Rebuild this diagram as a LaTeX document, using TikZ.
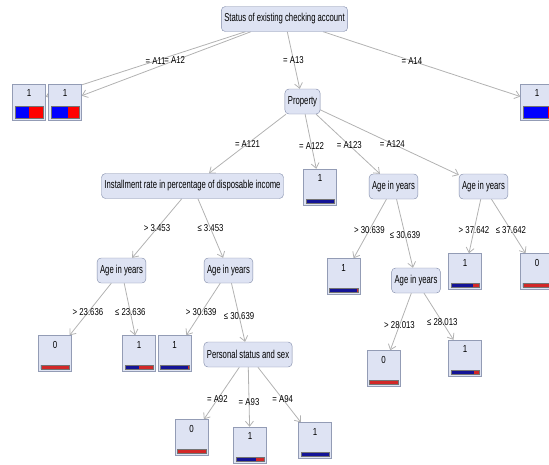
\documentclass[tikz,border=0pt]{standalone}
\usepackage{fontspec}
\setmainfont{Liberation Sans}[FakeStretch=0.67]
\newfontfamily\condfont{Liberation Sans}[FakeStretch=0.78]
\usetikzlibrary{arrows.meta,backgrounds}

\definecolor{nodefill}{RGB}{222,227,243}
\definecolor{nodeline}{RGB}{128,138,168}
\definecolor{linkgray}{RGB}{178,178,178}
\definecolor{fullblue}{RGB}{0,0,255}
\definecolor{fullred}{RGB}{255,0,0}
\definecolor{navybar}{RGB}{20,20,150}
\definecolor{redbar}{RGB}{210,40,40}

\tikzset{
  split/.style={draw=nodeline,fill=nodefill,rounded corners=4pt,inner xsep=3pt,inner ysep=0pt,minimum height=25pt,font=\fontsize{11.5}{13}\selectfont},
  leaf/.style={draw=nodeline!85,fill=nodefill,minimum width=33pt,inner xsep=0pt,inner ysep=0pt,text height=12.5pt,text depth=23.5pt,font=\condfont\fontsize{10.2}{12}\selectfont},
  link/.style={draw=linkgray,line width=0.8pt,-{Straight Barb[length=5pt,width=8pt]}},
  cond/.style={font=\condfont\fontsize{10}{12}\selectfont,inner sep=1pt}
}

% node, blue share, bar height, blue colour, red colour
\newcommand{\leafbar}[5]{%
  \fill[#4] ([xshift=2.5pt,yshift=2.5pt]#1.south west) rectangle ++({#2*28pt},#3);
  \fill[#5] ([xshift={2.5pt+#2*28pt},yshift=2.5pt]#1.south west) rectangle ([xshift=-2.5pt,yshift={2.5pt+#3}]#1.south east);
  \draw[black!55,line width=0.3pt] ([xshift=2.5pt,yshift=2.5pt]#1.south west) rectangle ([xshift=-2.5pt,yshift={2.5pt+#3}]#1.south east);
}

\begin{document}
\begin{tikzpicture}[x=1pt,y=-1pt]
\useasboundingbox (0,0) rectangle (549,464);

\node[split] (root) at (284.5,19) {Status of existing checking account};
\node[leaf] (a11) at (29,102) {1};
\node[leaf] (a12) at (65,102) {1};
\node[leaf] (a14) at (537,102) {1};
\node[split] (prop) at (302.5,101.5) {Property};

\node[split] (rate) at (192.5,186) {Installment rate in percentage of disposable income};
\node[leaf] (a122) at (320,187) {1};
\node[split] (age1) at (393.5,186.5) {Age in years};
\node[split] (age2) at (483.5,186.5) {Age in years};

\node[split] (age3) at (121.5,270.5) {Age in years};
\node[split] (age4) at (228.5,270.5) {Age in years};
\node[leaf] (n1) at (55,353.5) {0};
\node[leaf] (n2) at (139,353.5) {1};
\node[leaf] (n3) at (174.5,353.5) {1};
\node[split] (sex) at (248,354.5) {Personal status and sex};
\node[leaf] (n4) at (191.5,437.5) {0};
\node[leaf] (n5) at (250,445) {1};
\node[leaf] (n6) at (315,440.5) {1};

\node[leaf] (n7) at (343.5,276.5) {1};
\node[split] (age5) at (416,280.5) {Age in years};
\node[leaf] (n8) at (383.5,368.5) {0};
\node[leaf] (n9) at (465,358) {1};
\node[leaf] (n10) at (465,271.5) {1};
\node[leaf] (n11) at (537,271.5) {0};

\leafbar{a11}{0.5}{12pt}{fullblue}{fullred}
\leafbar{a12}{0.6}{12pt}{fullblue}{fullred}
\leafbar{a14}{0.9}{12pt}{fullblue}{fullred}
\leafbar{a122}{1}{4pt}{navybar}{redbar}
\leafbar{n1}{0}{4pt}{navybar}{redbar}
\leafbar{n2}{0.5}{4pt}{navybar}{redbar}
\leafbar{n3}{1}{4pt}{navybar}{redbar}
\leafbar{n4}{0}{4pt}{navybar}{redbar}
\leafbar{n5}{0.72}{4pt}{navybar}{redbar}
\leafbar{n6}{1}{4pt}{navybar}{redbar}
\leafbar{n7}{1}{4pt}{navybar}{redbar}
\leafbar{n8}{0}{4pt}{navybar}{redbar}
\leafbar{n9}{0.84}{4pt}{navybar}{redbar}
\leafbar{n10}{0.8}{4pt}{navybar}{redbar}
\leafbar{n11}{0}{4pt}{navybar}{redbar}

\begin{scope}[on background layer]
  \draw[link] (root) -- node[cond,pos=0.45] {= A11} (a11);
  \draw[link] (root) -- node[cond,pos=0.45] {= A12} (a12);
  \draw[link] (root) -- node[cond,pos=0.5] {= A13} (prop);
  \draw[link] (root) -- node[cond,pos=0.45] {= A14} (a14);

  \draw[link] (prop) -- node[cond,pos=0.5] {= A121} (rate);
  \draw[link] (prop) -- node[cond,pos=0.58] {= A122} (a122);
  \draw[link] (prop) -- node[cond,pos=0.52] {= A123} (age1);
  \draw[link] (prop) -- node[cond,pos=0.52] {= A124} (age2);

  \draw[link] (rate) -- node[cond,pos=0.5] {> 3.453} (age3);
  \draw[link] (rate) -- node[cond,pos=0.5] {≤ 3.453} (age4);
  \draw[link] (age3) -- node[cond,pos=0.56] {> 23.636} (n1);
  \draw[link] (age3) -- node[cond,pos=0.56] {≤ 23.636} (n2);
  \draw[link] (age4) -- node[cond,pos=0.56] {> 30.639} (n3);
  \draw[link] (age4) -- node[cond,pos=0.56] {≤ 30.639} (sex);
  \draw[link] (sex) -- node[cond,pos=0.62] {= A92} (n4);
  \draw[link] (sex) -- node[cond,pos=0.58] {= A93} (n5);
  \draw[link] (sex) -- node[cond,pos=0.58] {= A94} (n6);

  \draw[link] (age1) -- node[cond,pos=0.52] {> 30.639} (n7);
  \draw[link] (age1) -- node[cond,pos=0.52] {≤ 30.639} (age5);
  \draw[link] (age5) -- node[cond,pos=0.56] {> 28.013} (n8);
  \draw[link] (age5) -- node[cond,pos=0.62] {≤ 28.013} (n9);
  \draw[link] (age2) -- node[cond,pos=0.57] {> 37.642} (n10);
  \draw[link] (age2) -- node[cond,pos=0.57] {≤ 37.642} (n11);
\end{scope}
\end{tikzpicture}
\end{document}
